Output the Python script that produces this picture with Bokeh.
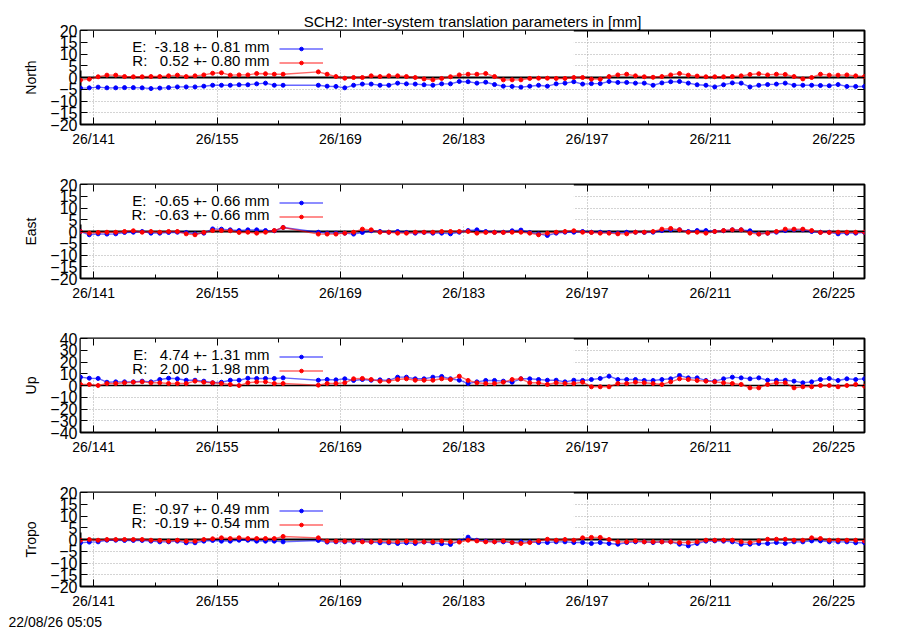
import re
from bokeh.plotting import figure
from bokeh.models import (Range1d, FixedTicker, LinearAxis, Span, BoxAnnotation,
                          Label, Legend, LegendItem, CustomJSTickFormatter, Title)
from bokeh.layouts import column
from bokeh.embed import file_html
from bokeh.resources import INLINE

FONT = "Liberation Sans"

TITLE = "SCH2: Inter-system translation parameters in [mm]"
STAMP = "22/08/26 05:05"

# day of year (2026) of each daily solution; epochs plotted at noon
DOY = [139, 140, 141, 142, 143, 144, 145, 146, 147, 148, 149, 150,
       151, 152, 153, 154, 155, 156, 157, 158, 159, 160, 161, 162,
       166, 167, 168, 169, 170, 171, 172, 173, 174, 175, 176, 177,
       178, 179, 180, 181, 182, 183,
       184, 185, 186, 187, 188, 189, 190, 191, 192, 193, 194, 195,
       196, 197, 198, 199, 200, 201, 202, 203, 204, 205, 206, 207,
       208, 209, 210, 211, 212, 213, 214, 215, 216, 217, 218, 219,
       220, 221, 222, 223, 224, 225, 226, 227, 228]

X_TICKS = [141, 155, 169, 183, 197, 211, 225]
X_LABELS = ["26/141", "26/155", "26/169", "26/183", "26/197", "26/211", "26/225"]
X_MINOR = [148, 162, 176, 190, 204, 218]

NORTH_E = [-4.5, -4.4, -4.1, -4.4, -4.4, -4.3, -4.3, -4.4, -4.7, -4.5, -4.3, -4.0,
           -4.0, -4.0, -3.7, -3.3, -3.3, -3.3, -3.1, -3.1, -2.7, -2.4, -3.3, -3.3,
           -3.3, -3.7, -3.8, -4.4, -3.3, -2.8, -2.8, -3.3, -3.3, -2.4, -2.7, -2.8,
           -3.1, -3.3, -2.7, -2.7, -1.7, -1.8,
           -2.4, -2.0, -3.0, -3.7, -3.8, -4.1, -3.7, -3.3, -3.7, -2.7,
           -2.4, -1.8, -2.8, -2.6, -2.6, -1.7, -2.1, -2.1, -2.4, -2.4,
           -3.3, -2.3, -1.8, -1.7, -2.4, -3.1, -3.3, -4.0, -3.1, -2.3,
           -2.4, -4.0, -3.3, -3.0, -2.8, -2.4, -3.3, -3.3, -3.3, -3.4,
           -3.5, -3.0, -3.8, -3.8, -3.8]
NORTH_R = [-1.1, -0.7, 0.3, 1.0, 1.0, 0.4, 0.3, 0.3, 0.4, 0.4, 0.7, 1.0,
           0.4, 0.7, 1.1, 1.8, 2.0, 1.0, 1.1, 1.1, 1.7, 1.6, 1.4, 1.4,
           2.4, 1.4, 0.4, -0.3, 0.0, 0.0, 0.7, 0.4, 0.7, 0.7, 0.4, 0.0,
           -0.6, -1.0, -0.4, 0.3, 1.1, 1.4,
           1.4, 1.7, 0.4, -1.0, -1.0, -1.0, -0.4, -0.3, -0.3, -0.4,
           -0.4, 0.0, 0.0, -0.7, -0.7, 0.4, 1.1, 1.4, 0.7, 0.3,
           0.1, 0.4, 1.1, 1.7, 1.0, 0.6, 0.3, 0.3, 0.3, 0.4,
           0.7, 1.3, 1.6, 1.1, 1.4, 1.3, 0.4, -0.6, 0.0, 1.4,
           1.0, 1.0, 1.1, 0.7, 0.4]

EAST_E = [0.0, -1.4, -1.0, -1.1, -1.0, -0.4, -0.3, 0.0, -0.7, -0.7, -0.4, -0.3,
          -0.4, -1.0, -0.7, 1.1, 1.0, 0.7, 0.4, 0.7, 0.7, 0.4, 0.3, 1.7,
          -0.3, -0.7, -0.7, -0.7, -1.1, -0.4, 0.3, 0.0, -0.3, 0.0, -0.4, -0.7,
          -0.4, -0.7, -0.7, -1.0, -0.3, 0.4,
          0.7, 0.0, -0.3, -0.3, 0.3, 0.6, -0.4, -1.0, -1.7, -0.7,
          -0.3, -0.3, 0.0, -0.3, -0.3, -0.4, -0.7, -0.3, -0.3, -0.4,
          -0.3, 0.4, 0.7, 0.7, 0.0, 0.4, 0.4, 0.0, 0.3, 0.7,
          0.7, 0.3, -1.0, -0.7, -0.3, 0.4, 0.7, 0.7, 0.0, -0.3,
          -0.3, -1.0, -0.7, -0.7, -0.4]
EAST_R = [0.0, -0.7, -0.4, -0.3, -0.3, 0.0, 0.3, -0.3, 0.0, -0.3, 0.0, 0.0,
          -1.0, -1.4, -0.4, 0.4, 0.4, 0.3, -0.4, -0.3, -0.7, -0.3, 0.4, 1.7,
          -1.1, -1.1, -1.1, -0.7, -0.3, 1.0, 0.7, -0.3, -0.3, -0.7, -0.7, -0.3,
          -0.3, -0.3, 0.0, 0.0, 0.0, 0.0,
          -0.7, -0.4, -0.4, -0.4, -0.3, -0.3, -0.7, -1.4, -0.7, -0.3,
          0.0, 0.3, -0.3, -0.4, -0.7, -0.7, -1.0, -1.0, -0.3, -0.3,
          0.0, 1.0, 1.3, 0.7, -0.3, -0.3, -0.7, 0.0, 0.4, 0.7,
          0.7, -0.7, -1.1, -0.7, 0.0, 1.0, 1.0, 1.0, 0.4, -0.4,
          -0.4, -0.3, -0.3, -0.3, -0.3]

UP_E = [7.1, 6.2, 6.0, 2.8, 3.1, 3.1, 3.1, 3.7, 3.1, 5.1, 6.2, 5.7,
        4.5, 4.5, 3.7, 2.3, 2.8, 4.5, 4.5, 6.2, 6.0, 6.0, 6.0, 6.5,
        4.5, 5.1, 4.8, 5.7, 4.3, 5.1, 4.5, 4.8, 4.3, 7.1, 7.1, 5.7,
        5.7, 7.1, 7.7, 5.7, 4.5, 1.7,
        3.1, 4.3, 4.3, 3.7, 2.8, 5.7, 5.7, 5.1, 4.5, 4.5,
        3.1, 4.5, 4.3, 5.1, 6.0, 7.9, 5.1, 5.1, 5.1, 4.3,
        4.3, 5.1, 5.7, 8.5, 6.5, 6.5, 4.3, 3.7, 5.7, 7.1,
        6.5, 5.7, 6.5, 4.5, 4.5, 4.5, 3.7, 2.3, 3.1, 5.1,
        6.0, 4.3, 5.7, 5.1, 5.7]
UP_R = [0.9, 0.9, 0.0, 1.7, 1.7, 2.3, 2.8, 3.1, 2.3, 2.3, 1.7, 1.7,
        1.7, 3.7, 2.8, 2.3, 1.7, 0.9, 0.0, 2.3, 3.1, 3.1, 1.7, 1.7,
        0.3, 1.7, 1.7, 2.3, 5.7, 6.0, 5.1, 3.7, 3.7, 5.1, 5.7, 4.5,
        4.5, 4.5, 5.7, 5.1, 7.9, 4.3,
        2.3, 1.7, 1.7, 2.8, 5.1, 5.7, 2.3, 2.3, 0.9, 2.3,
        1.7, 1.7, 2.8, -1.1, -1.1, -1.1, 1.7, 1.7, 2.8, 2.3,
        1.7, 0.9, 3.1, 5.7, 5.1, 4.3, 3.7, 3.1, 2.3, 1.7,
        0.9, -2.0, -2.0, 0.9, 2.3, 2.3, -2.0, -1.1, -1.1, 0.0,
        0.0, -1.1, 0.0, 0.9, -0.6]

TROPO_E = [-1.4, -1.1, -1.0, -0.3, -0.3, -0.4, -0.4, -0.4, -0.7, -1.0, -1.0, -0.7,
           -1.4, -1.4, -0.7, -0.4, -0.7, -0.7, -0.3, -0.3, -0.7, -0.7, -0.7, -1.0,
           -0.4, -1.1, -1.0, -1.0, -1.1, -0.7, -1.1, -1.4, -1.4, -1.7, -1.4, -1.7,
           -1.1, -1.4, -1.8, -2.1, -0.7, 1.0,
           -0.3, -0.7, -1.0, -1.0, -1.3, -1.0, -1.0, -1.3, -1.3, -1.0,
           -1.0, -1.3, -1.3, -1.7, -1.3, -1.7, -2.0, -1.3, -1.0, -1.0,
           -1.3, -1.0, -1.0, -2.0, -2.7, -1.7, -0.7, -0.6, -0.7, -1.0,
           -2.0, -2.0, -1.7, -1.7, -1.3, -1.7, -1.0, -1.0, -0.6, -0.6,
           -1.0, -1.0, -1.0, -1.4, -1.4]
TROPO_R = [-0.3, 0.0, -0.3, 0.0, 0.0, 0.0, 0.0, 0.0, -0.3, -0.4, -0.7, -0.3,
           -0.7, -0.7, 0.0, 0.3, 0.7, 0.4, 0.7, 0.4, 0.4, 0.4, 0.4, 1.3,
           0.7, -0.7, -0.7, -0.7, -0.7, -1.0, -1.0, -0.7, -1.0, -1.0, -0.7, -1.0,
           -1.0, -1.0, -0.7, -1.0, -1.1, -0.3,
           -0.6, -1.0, -1.0, -0.6, -1.3, -1.7, -1.3, -0.6, 0.1, -0.3,
           0.0, -0.3, 0.7, 0.9, 0.9, 0.0, -1.0, -1.0, -0.6, -1.0,
           -1.0, -1.0, -1.0, -1.3, -1.3, -1.0, -0.3, -0.3, -0.3, -0.3,
           -1.0, -1.3, -0.6, 0.1, 0.1, 0.1, -0.3, -0.3, 0.7, 0.4,
           -0.3, -0.3, -0.3, -0.3, -0.6]

PANELS = [
    ("North", NORTH_E, NORTH_R, "E:  -3.18 +- 0.81 mm", "R:   0.52 +- 0.80 mm", 20, 5),
    ("East", EAST_E, EAST_R, "E:  -0.65 +- 0.66 mm", "R:  -0.63 +- 0.66 mm", 20, 5),
    ("Up", UP_E, UP_R, "E:   4.74 +- 1.31 mm", "R:   2.00 +- 1.98 mm", 40, 10),
    ("Tropo", TROPO_E, TROPO_R, "E:  -0.97 +- 0.49 mm", "R:  -0.19 +- 0.54 mm", 20, 5),
]

X = [d + 0.5 for d in DOY]
X_MIN, X_MAX = 139.5, 228.5
KEY_RIGHT = 195.5          # right edge of the opaque key box (x data units)
FRAME_W, FRAME_H = 784, 94
BLUE, RED = "#0000ff", "#ff0000"

blank = CustomJSTickFormatter(code="return ''")


def keep_spaces(s):
    # keep the runs of blanks that align the key texts
    return re.sub(r" {2,}", lambda m: "\u00a0" * (len(m.group(0)) - 1) + " ", s)


def style_axis(ax):
    ax.axis_line_color = None
    ax.major_tick_in = 7
    ax.major_tick_out = 0
    ax.minor_tick_in = 4
    ax.minor_tick_out = 0
    ax.major_tick_line_color = "black"
    ax.minor_tick_line_color = "black"
    ax.major_label_text_font = FONT
    ax.major_label_text_color = "black"


def make_panel(idx, name, e_vals, r_vals, e_txt, r_txt, ylim, ystep):
    first = idx == 0
    last = idx == len(PANELS) - 1
    p = figure(frame_width=FRAME_W, frame_height=FRAME_H,
               x_range=Range1d(X_MIN, X_MAX), y_range=Range1d(-ylim, ylim),
               output_backend="svg", toolbar_location=None,
               min_border_left=80, min_border_right=35,
               min_border_top=30 if first else 22,
               min_border_bottom=43 if last else 38)
    p.outline_line_color = "black"
    p.outline_line_width = 2
    p.background_fill_color = "white"
    p.border_fill_color = "white"

    xt = FixedTicker(ticks=X_TICKS, minor_ticks=X_MINOR)
    yt = FixedTicker(ticks=list(range(-ylim, ylim + 1, ystep)))

    bottom = p.below[0]
    bottom.ticker = xt
    bottom.major_label_overrides = dict(zip(X_TICKS, X_LABELS))
    style_axis(bottom)
    bottom.major_label_text_font_size = "14px"
    bottom.major_label_standoff = 6

    left = p.left[0]
    left.ticker = yt
    style_axis(left)
    left.major_label_text_font_size = "16px"
    left.major_label_standoff = 3
    left.axis_label = name
    left.axis_label_text_font = FONT
    left.axis_label_text_font_size = "14px"
    left.axis_label_text_font_style = "normal"
    left.axis_label_text_color = "black"
    left.axis_label_standoff = 8

    top = LinearAxis(ticker=xt, formatter=blank)
    style_axis(top)
    top.major_label_text_font_size = "1px"
    top.major_label_standoff = 4 if first else 0
    p.add_layout(top, "above")
    right = LinearAxis(ticker=yt, formatter=blank)
    style_axis(right)
    right.major_label_text_font_size = "1px"
    right.major_label_standoff = 0
    p.add_layout(right, "right")

    for g, t in ((p.xgrid[0], xt), (p.ygrid[0], yt)):
        g.ticker = t
        g.grid_line_color = "#a8a8a8"
        g.grid_line_dash = "1 2"
        g.grid_line_width = 1

    key_bottom = ylim - 40.0 * (2 * ylim) / FRAME_H
    p.add_layout(BoxAnnotation(right=KEY_RIGHT, bottom=key_bottom,
                               fill_color="white", fill_alpha=1.0,
                               line_color=None, level="underlay"))
    p.add_layout(Span(location=0, dimension="width", line_color="black",
                      line_width=1.5 if ylim == 40 else 2, level="underlay"))

    le = p.line(X, e_vals, line_color=BLUE, line_width=1.4, line_alpha=0.6)
    se = p.scatter(X, e_vals, size=4, color=BLUE)
    lr = p.line(X, r_vals, line_color=RED, line_width=1.4, line_alpha=0.6)
    sr = p.scatter(X, r_vals, size=4, color=RED)

    leg = Legend(items=[LegendItem(label="", renderers=[le, se]),
                        LegendItem(label="", renderers=[lr, sr])],
                 location=(199, 55), orientation="vertical",
                 glyph_width=44, glyph_height=9, label_width=0, label_height=14,
                 label_standoff=0, padding=0, margin=0, spacing=0,
                 background_fill_alpha=0, border_line_color=None,
                 label_text_font_size="1px")
    p.add_layout(leg)

    for txt, yc in ((e_txt, 78.3), (r_txt, 64.0)):
        p.add_layout(Label(x=189, y=yc, x_units="screen", y_units="screen",
                           text=keep_spaces(txt), text_align="right",
                           text_baseline="middle",
                           text_font=FONT, text_font_size="15px", text_color="black"))

    if first:
        head = Title(text=TITLE, align="center", offset=-22, standoff=2,
                     text_font=FONT, text_font_size="15px",
                     text_font_style="normal", text_color="black")
        p.add_layout(head, "above")
    if last:
        stamp = Title(text=STAMP, align="left", offset=-72, standoff=1,
                      text_font=FONT, text_font_size="14px",
                      text_font_style="normal", text_color="black")
        p.add_layout(stamp, "below")
    return p


figs = [make_panel(i, *args) for i, args in enumerate(PANELS)]
layout = column(*figs, spacing=0)

open("out.html", "w").write(file_html(layout, INLINE))
